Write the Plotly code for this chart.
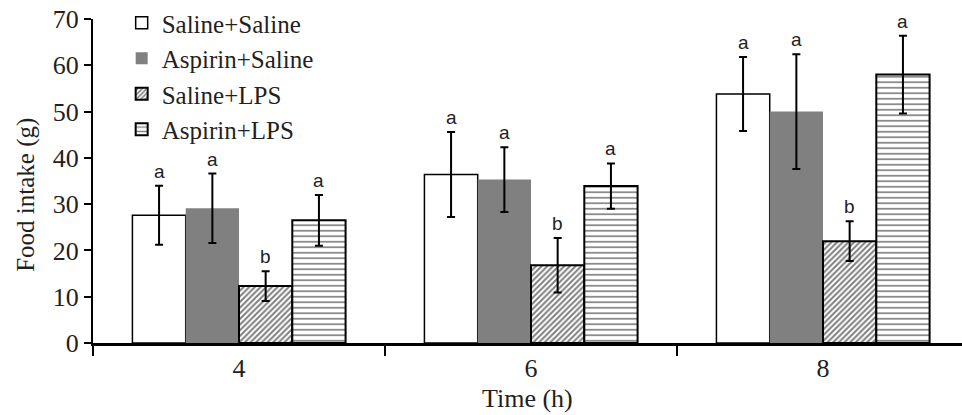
import plotly.graph_objects as go

categories = ["4", "6", "8"]
series_names = ["Saline+Saline", "Aspirin+Saline", "Saline+LPS", "Aspirin+LPS"]
means = {
    "Saline+Saline": [27.6, 36.4, 53.8],
    "Aspirin+Saline": [29.1, 35.3, 50.0],
    "Saline+LPS": [12.3, 16.8, 22.0],
    "Aspirin+LPS": [26.5, 33.9, 58.0],
}
errors = {
    "Saline+Saline": [6.4, 9.2, 8.0],
    "Aspirin+Saline": [7.5, 7.0, 12.4],
    "Saline+LPS": [3.2, 5.9, 4.3],
    "Aspirin+LPS": [5.5, 4.9, 8.4],
}
letters = {
    "Saline+Saline": ["a", "a", "a"],
    "Aspirin+Saline": ["a", "a", "a"],
    "Saline+LPS": ["b", "b", "b"],
    "Aspirin+LPS": ["a", "a", "a"],
}
x_title = "Time (h)"
y_title = "Food intake (g)"

styles = {
    "Saline+Saline": dict(color="white", line=dict(color="black", width=1.5)),
    "Aspirin+Saline": dict(color="#808080", line=dict(color="#808080", width=0)),
    "Saline+LPS": dict(color="white", line=dict(color="black", width=2),
                        pattern=dict(shape="/", fgcolor="black", bgcolor="white", size=4, solidity=0.5)),
    "Aspirin+LPS": dict(color="white", line=dict(color="black", width=2),
                         pattern=dict(shape="-", fgcolor="black", bgcolor="white", size=5.5, solidity=0.3)),
}

fig = go.Figure()
for name in series_names:
    fig.add_trace(go.Bar(
        name=name, x=categories, y=means[name], legendgroup=name,
        marker=styles[name],
        error_y=dict(type="data", array=errors[name], visible=True,
                     color="black", thickness=2, width=4),
    ))

bargap = 0.27
bw = (1 - bargap) / len(series_names)
for i, name in enumerate(series_names):
    off = -(1 - bargap) / 2 + bw * (i + 0.5)
    for j, cat in enumerate(categories):
        fig.add_annotation(x=j + off, y=means[name][j] + errors[name][j],
                           xref="x", yref="y", text=letters[name][j], showarrow=False,
                           yanchor="bottom", yshift=2,
                           font=dict(family="Liberation Sans, Arial", size=19, color="#222"))

serif = "Liberation Serif, Times New Roman, serif"
fig.add_annotation(x=0.5, y=-0.221, xref="paper", yref="paper", text=x_title,
                   showarrow=False, xanchor="center", yanchor="bottom",
                   font=dict(family=serif, size=26, color="#231f20"))
fig.add_annotation(x=-0.078, y=0.458, xref="paper", yref="paper", text=y_title,
                   showarrow=False, xanchor="center", yanchor="middle", textangle=-90,
                   font=dict(family=serif, size=25, color="#231f20"))

fig.update_layout(
    width=962, height=415,
    margin=dict(l=93, r=0, t=19, b=72),
    barmode="group", bargap=bargap, bargroupgap=0,
    plot_bgcolor="white", paper_bgcolor="white",
    font=dict(family=serif, size=26, color="#231f20"),
    showlegend=True,
    legend=dict(x=0.033, y=1.06, xanchor="left", yanchor="top",
                font=dict(family=serif, size=25, color="#231f20"),
                bgcolor="rgba(0,0,0,0)", tracegroupgap=0, traceorder="normal"),
    xaxis=dict(type="category", range=[-0.5, 2.476], showline=True, linecolor="black",
               linewidth=3, ticks="outside", tickson="boundaries", ticklen=10,
               tickwidth=1.5, tickcolor="black", showgrid=False, zeroline=False,
               automargin=False, tickfont=dict(size=26)),
    yaxis=dict(range=[0, 70], dtick=10, showline=True, linecolor="black", linewidth=2,
               ticks="outside", ticklen=7, tickwidth=1.5, tickcolor="black",
               showgrid=False, zeroline=False, automargin=False,
               tickfont=dict(size=26)),
)

fig.write_html("out.html")
